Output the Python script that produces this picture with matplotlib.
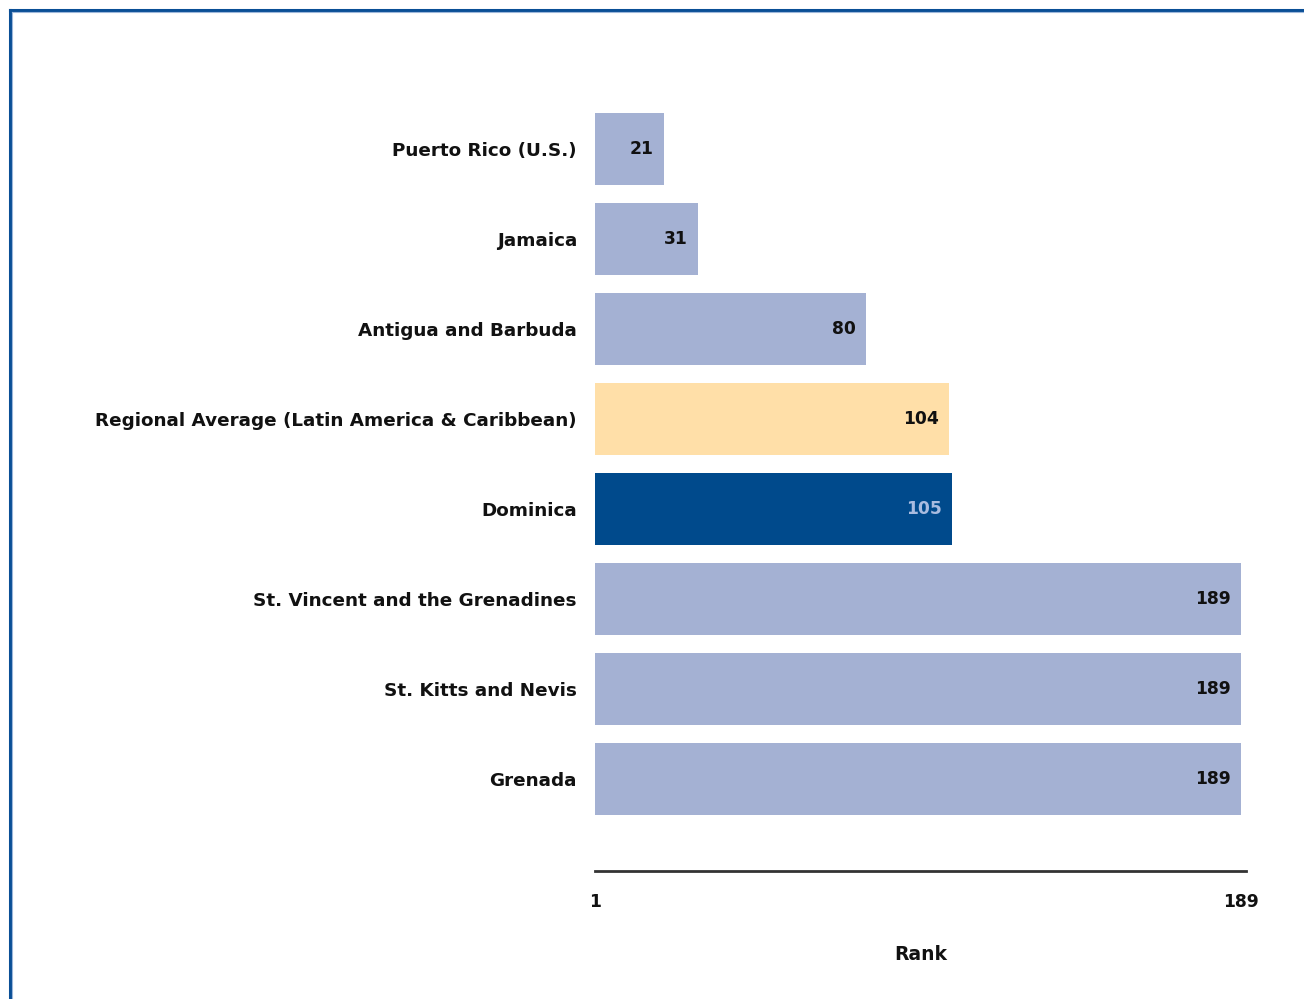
import matplotlib.pyplot as plt
from matplotlib.lines import Line2D

# data (rank, lower is better)
countries = ['Puerto Rico (U.S.)', 'Jamaica', 'Antigua and Barbuda',
             'Regional Average (Latin America & Caribbean)', 'Dominica',
             'St. Vincent and the Grenadines', 'St. Kitts and Nevis', 'Grenada']
ranks = [21, 31, 80, 104, 105, 189, 189, 189]
rank_min = 1
rank_max = 189

light = '#A4B1D3'
avg_col = '#FFDFA8'
dom_col = '#004A8C'
colors = [light, light, light, avg_col, dom_col, light, light, light]
text_cols = ['#111111'] * 4 + ['#A9BCE0'] + ['#111111'] * 3

plt.rcParams['font.family'] = ['DejaVu Sans']
fig = plt.figure(figsize=(13.04, 9.99), dpi=100)
ax = fig.add_axes([595 / 1304, 1 - 871 / 999, (1246 - 595) / 1304, (871 - 59) / 999])

ypos = list(range(len(countries)))
widths = [r - rank_min for r in ranks]
ax.barh(ypos, widths, left=rank_min, height=0.8, color=colors, edgecolor='none')

for y, r, tc in zip(ypos, ranks, text_cols):
    ax.text(r - 3.0, y, str(r), ha='right', va='center', fontsize=12.3,
            fontweight='bold', color=tc)

ax.set_xlim(rank_min, rank_max + 1.5)
ax.set_ylim(len(countries) - 1 + 1.022, -1)
ax.set_yticks(ypos)
ax.set_yticklabels(countries, fontsize=13.2, fontweight='bold', color='#111111')
ax.tick_params(axis='y', length=0, pad=13)
ax.set_xticks([rank_min, rank_max])
ax.set_xticklabels([str(rank_min), str(rank_max)], fontsize=12.3, fontweight='bold',
                   color='#111111')
ax.tick_params(axis='x', length=0, pad=16)
ax.set_xlabel('Rank', fontsize=13.5, fontweight='bold', color='#111111', labelpad=24)

for s in ['top', 'right', 'left']:
    ax.spines[s].set_visible(False)
ax.spines['bottom'].set_linewidth(2)
ax.spines['bottom'].set_color('#333333')

# frame at top and left edge
fig.add_artist(Line2D([9.5 / 1304, 1], [1 - 9.5 / 999] * 2, color='#0A4F96', lw=2.2))
fig.add_artist(Line2D([9.5 / 1304] * 2, [0, 1 - 9.5 / 999], color='#0A4F96', lw=2.2))
fig.add_artist(Line2D([11.5 / 1304, 1], [1 - 11.5 / 999] * 2, color='#9DB7DA', lw=0.8))
fig.add_artist(Line2D([11.5 / 1304] * 2, [0, 1 - 11.5 / 999], color='#9DB7DA', lw=0.8))

fig.savefig('out.png', dpi=100)
